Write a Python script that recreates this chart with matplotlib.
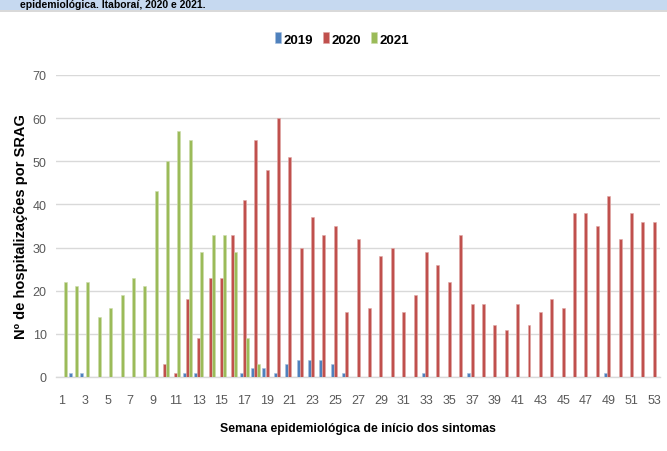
import matplotlib
matplotlib.use("Agg")
import matplotlib.pyplot as plt
import numpy as np
from matplotlib.patches import Rectangle

weeks = list(range(1, 54))

# 2019 series (blue)
s2019 = [0, 1, 1, 0, 0, 0, 0, 0, 0, 0,
         0, 1, 1, 0, 0, 0, 1, 2, 2, 1,
         3, 4, 4, 4, 3, 1, 0, 0, 0, 0,
         0, 0, 1, 0, 0, 0, 1, 0, 0, 0,
         0, 0, 0, 0, 0, 0, 0, 0, 1, 0,
         0, 0, 0]
# 2020 series (red)
s2020 = [0, 0, 0, 0, 0, 0, 0, 0, 0, 3,
         1, 18, 9, 23, 23, 33, 41, 55, 48, 60,
         51, 30, 37, 33, 35, 15, 32, 16, 28, 30,
         15, 19, 29, 26, 22, 33, 17, 17, 12, 11,
         17, 12, 15, 18, 16, 38, 38, 35, 42, 32,
         38, 36, 36]
# 2021 series (green)
s2021 = [22, 21, 22, 14, 16, 19, 23, 21, 43, 50,
         57, 55, 29, 33, 33, 29, 9, 3] + [0] * 35

series_names = ["2019", "2020", "2021"]
colors = ["#4F81BD", "#C0504D", "#9BBB59"]
edge_colors = ["#A7C0DE", "#E0A8A6", "#CDDDAC"]

fam = ["Liberation Sans", "DejaVu Sans"]

fig = plt.figure(figsize=(6.67, 4.52), dpi=100)

# Title banner at the top
fig.patches.append(Rectangle((0, 1 - 11 / 452), 1, 11 / 452, transform=fig.transFigure,
                             facecolor="#C6D9F0", edgecolor="none", zorder=0))
fig.patches.append(Rectangle((0, 1 - 13 / 452), 1, 2 / 452, transform=fig.transFigure,
                             facecolor="#D9D9D9", edgecolor="none", zorder=0))
fig.text(20 / 667, 1 - 5.5 / 452, "epidemiológica. Itaboraí, 2020 e 2021.",
         fontsize=7.5, fontweight="bold", family=fam,
         ha="left", va="center", color="black")

ax = fig.add_axes([56.3 / 667, 1 - 378 / 452, (660 - 56.3) / 667, (378 - 76) / 452])

x = np.array(weeks, dtype=float)
w = 0.26
offsets = [-0.27, 0.0, 0.27]
handles = []
for vals, name, c, ec, off in zip([s2019, s2020, s2021], series_names, colors, edge_colors, offsets):
    b = ax.bar(x + off, vals, width=w, color=c, edgecolor=ec, linewidth=0.4, label=name, zorder=3)
    handles.append(b)

ax.set_xlim(0.5, 53.5)
ax.set_ylim(0, 70)
ax.set_yticks(range(0, 71, 10))
ax.set_xticks(range(1, 54, 2))
ax.set_xticklabels([str(v) for v in range(1, 54, 2)])
ax.grid(axis="y", color="#D9D9D9", linewidth=1.0, zorder=0)
ax.set_axisbelow(True)
for s in ["top", "right", "left"]:
    ax.spines[s].set_visible(False)
ax.spines["bottom"].set_color("#D9D9D9")
ax.spines["bottom"].set_linewidth(1.0)
ax.tick_params(axis="both", length=0, labelsize=9, labelcolor="#595959")
ax.tick_params(axis="y", pad=7)
ax.tick_params(axis="x", pad=12)
for lbl in ax.get_xticklabels() + ax.get_yticklabels():
    lbl.set_family(fam)

ax.set_xlabel("Semana epidemiológica de início dos sintomas", fontsize=8.8,
              fontweight="bold", labelpad=12, family=fam)
ax.set_ylabel("Nº de hospitalizações por SRAG", fontsize=10.5, fontweight="bold",
              labelpad=3, family=fam)

leg = fig.legend(handles=handles, labels=series_names, loc="center",
                 bbox_to_anchor=(342 / 667, 1 - 40 / 452), ncol=3, frameon=False,
                 handlelength=0.45, handleheight=0.9, handletextpad=0.25, columnspacing=0.7,
                 prop={"weight": "bold", "size": 9.5, "family": fam})

fig.savefig("out.png", dpi=100)
